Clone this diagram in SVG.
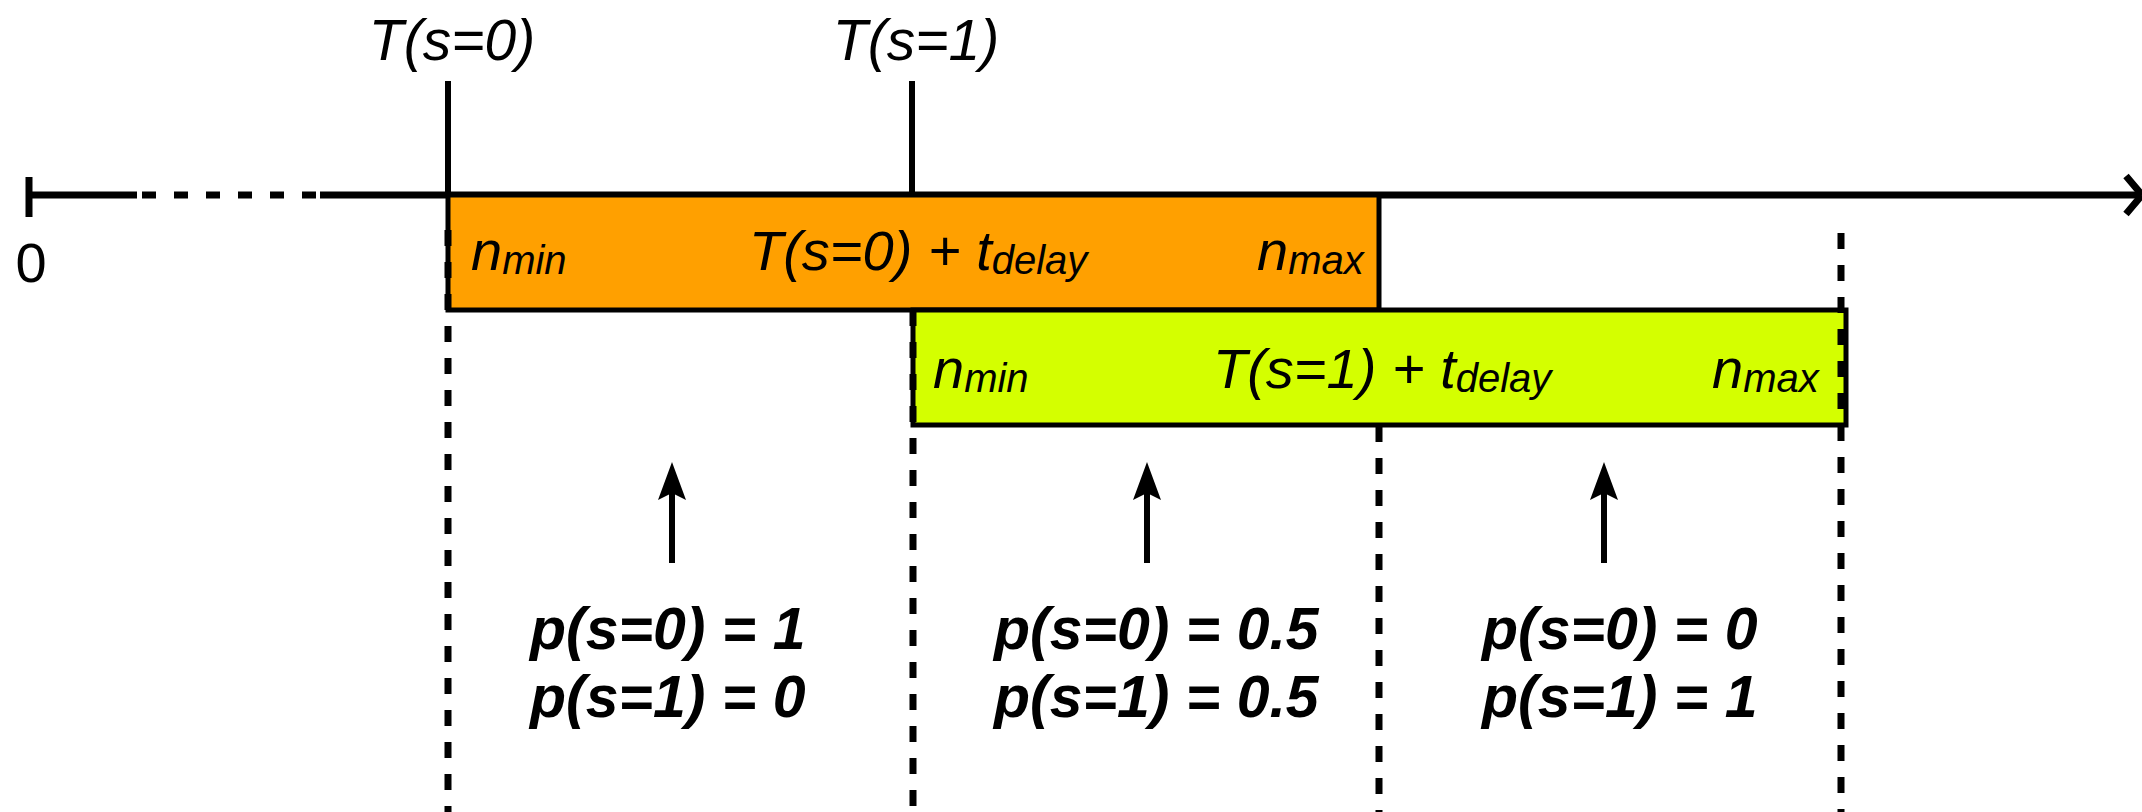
<svg xmlns="http://www.w3.org/2000/svg" width="2142" height="812" viewBox="0 0 2142 812">
<style>
.t{font-family:"Liberation Sans",Arial,sans-serif;fill:#000}
.it{font-style:italic}
.b{font-weight:bold;font-style:italic}
.ln{stroke:#000;fill:none}
.dash{stroke:#000;stroke-width:7;stroke-dasharray:16 16;fill:none}
.box{stroke:#000;stroke-width:5}
</style>
<defs>
<g id="uparrow">
<line x1="0" y1="492" x2="0" y2="563" stroke="#000" stroke-width="6"/>
<path d="M0,462 L14,500 L0,493 L-14,500 Z" fill="#000"/>
</g>
</defs>
<rect width="2142" height="812" fill="#fff"/>

<g id="axis">
<line class="ln" x1="29" y1="195" x2="137" y2="195" stroke-width="7"/>
<line class="ln" x1="142" y1="195" x2="317" y2="195" stroke-width="7" stroke-dasharray="14 18"/>
<line class="ln" x1="320" y1="195" x2="2140" y2="195" stroke-width="7"/>
<line class="ln" x1="29" y1="177" x2="29" y2="217" stroke-width="7"/>
<polyline class="ln" points="2126,176 2142,195 2126,214" stroke-width="7"/>
<text class="t" x="31" y="282" font-size="56" text-anchor="middle">0</text>
</g>

<g id="tick-s0">
<line class="ln" x1="448" y1="81" x2="448" y2="195" stroke-width="6"/>
<text class="t it" x="452" y="60" font-size="57" text-anchor="middle">T(s=0)</text>
</g>
<g id="tick-s1">
<line class="ln" x1="912" y1="81" x2="912" y2="195" stroke-width="6"/>
<text class="t it" x="916" y="60" font-size="57" text-anchor="middle">T(s=1)</text>
</g>

<g id="box-s0">
<rect class="box" x="448" y="195" width="931" height="115" fill="#FFA000"/>
<text class="t it" x="471" y="270" font-size="56">n<tspan font-size="40" dy="4">min</tspan></text>
<text class="t it" x="749" y="270" font-size="56">T(s=0) + t<tspan font-size="40" dy="4">delay</tspan></text>
<text class="t it" x="1257" y="270" font-size="56">n<tspan font-size="40" dy="4">max</tspan></text>
</g>

<g id="box-s1">
<rect class="box" x="913" y="310" width="933" height="115" fill="#D4FF00"/>
<text class="t it" x="933" y="388" font-size="56">n<tspan font-size="40" dy="4">min</tspan></text>
<text class="t it" x="1213" y="388" font-size="56">T(s=1) + t<tspan font-size="40" dy="4">delay</tspan></text>
<text class="t it" x="1712" y="388" font-size="56">n<tspan font-size="40" dy="4">max</tspan></text>
</g>

<g id="connectors">
<line class="dash" x1="448" y1="230" x2="448" y2="812"/>
<line class="dash" x1="913" y1="310" x2="913" y2="812"/>
<line class="dash" x1="1379" y1="426" x2="1379" y2="812"/>
<line class="dash" x1="1841" y1="233" x2="1841" y2="812"/>
<use href="#uparrow" x="672"/>
<use href="#uparrow" x="1147"/>
<use href="#uparrow" x="1604"/>
</g>

<g id="region-1">
<text class="t b" x="530" y="649" font-size="59">p(s=0) = 1</text>
<text class="t b" x="530" y="717" font-size="59">p(s=1) = 0</text>
</g>
<g id="region-2">
<text class="t b" x="994" y="649" font-size="59">p(s=0) = 0.5</text>
<text class="t b" x="994" y="717" font-size="59">p(s=1) = 0.5</text>
</g>
<g id="region-3">
<text class="t b" x="1482" y="649" font-size="59">p(s=0) = 0</text>
<text class="t b" x="1482" y="717" font-size="59">p(s=1) = 1</text>
</g>
</svg>
